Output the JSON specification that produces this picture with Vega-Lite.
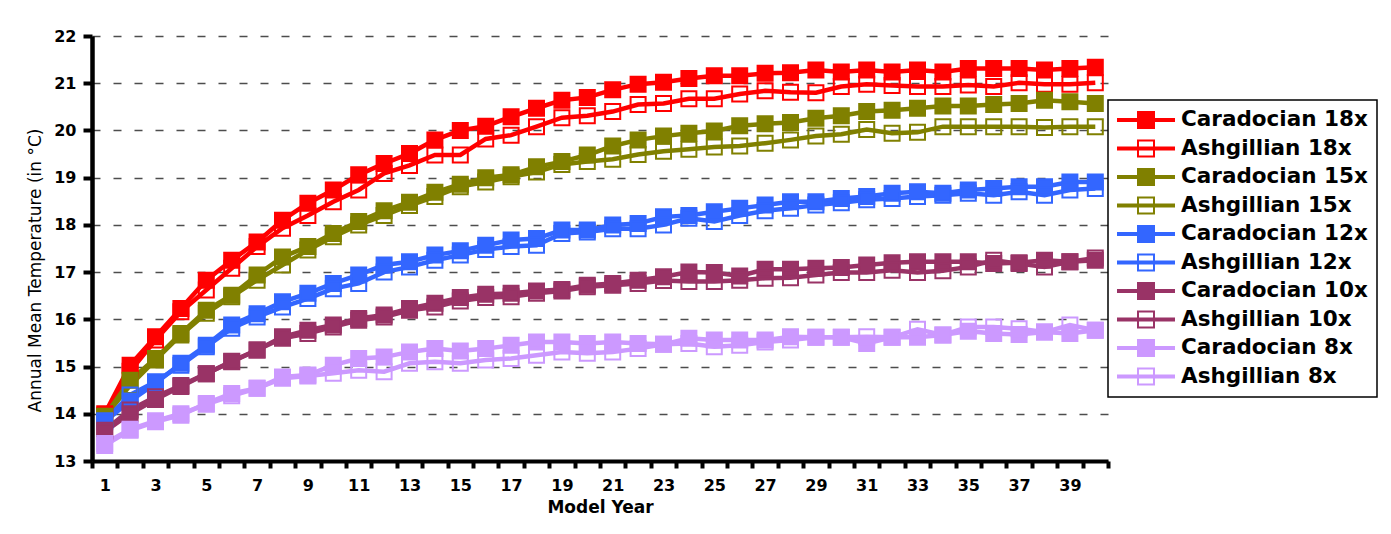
{
  "$schema": "https://vega.github.io/schema/vega-lite/v6.json",
  "width": 1016,
  "height": 425,
  "autosize": {"type": "none"},
  "padding": {"left": 92, "top": 36, "right": 283, "bottom": 73},
  "background": "white",
  "config": {"view": {"stroke": null}, "font": "DejaVu Sans"},
  "data": {
    "values": [
      {"year": 1, "Caradocian 18x": 14.0, "Ashgillian 18x": 13.97, "Caradocian 15x": 13.95, "Ashgillian 15x": 13.93, "Caradocian 12x": 13.83, "Ashgillian 12x": 13.85, "Caradocian 10x": 13.62, "Ashgillian 10x": 13.65, "Caradocian 8x": 13.33, "Ashgillian 8x": 13.37},
      {"year": 2, "Caradocian 18x": 15.03, "Ashgillian 18x": 14.9, "Caradocian 15x": 14.71, "Ashgillian 15x": 14.6, "Caradocian 12x": 14.27, "Ashgillian 12x": 14.4, "Caradocian 10x": 14.0, "Ashgillian 10x": 14.08, "Caradocian 8x": 13.65, "Ashgillian 8x": 13.67},
      {"year": 3, "Caradocian 18x": 15.63, "Ashgillian 18x": 15.56, "Caradocian 15x": 15.17, "Ashgillian 15x": 15.14, "Caradocian 12x": 14.64, "Ashgillian 12x": 14.68, "Caradocian 10x": 14.3, "Ashgillian 10x": 14.36, "Caradocian 8x": 13.83, "Ashgillian 8x": 13.85},
      {"year": 4, "Caradocian 18x": 16.23, "Ashgillian 18x": 16.16, "Caradocian 15x": 15.7, "Ashgillian 15x": 15.67, "Caradocian 12x": 15.07, "Ashgillian 12x": 15.03, "Caradocian 10x": 14.58, "Ashgillian 10x": 14.6, "Caradocian 8x": 13.97, "Ashgillian 8x": 14.0},
      {"year": 5, "Caradocian 18x": 16.83, "Ashgillian 18x": 16.62, "Caradocian 15x": 16.19, "Ashgillian 15x": 16.13, "Caradocian 12x": 15.45, "Ashgillian 12x": 15.42, "Caradocian 10x": 14.85, "Ashgillian 10x": 14.85, "Caradocian 8x": 14.22, "Ashgillian 8x": 14.2},
      {"year": 6, "Caradocian 18x": 17.25, "Ashgillian 18x": 17.08, "Caradocian 15x": 16.51, "Ashgillian 15x": 16.48, "Caradocian 12x": 15.88, "Ashgillian 12x": 15.81, "Caradocian 10x": 15.11, "Ashgillian 10x": 15.1, "Caradocian 8x": 14.43, "Ashgillian 8x": 14.38},
      {"year": 7, "Caradocian 18x": 17.64, "Ashgillian 18x": 17.54, "Caradocian 15x": 16.94, "Ashgillian 15x": 16.83, "Caradocian 12x": 16.12, "Ashgillian 12x": 16.05, "Caradocian 10x": 15.35, "Ashgillian 10x": 15.35, "Caradocian 8x": 14.54, "Ashgillian 8x": 14.54},
      {"year": 8, "Caradocian 18x": 18.1, "Ashgillian 18x": 17.93, "Caradocian 15x": 17.32, "Ashgillian 15x": 17.15, "Caradocian 12x": 16.37, "Ashgillian 12x": 16.26, "Caradocian 10x": 15.63, "Ashgillian 10x": 15.6, "Caradocian 8x": 14.78, "Ashgillian 8x": 14.75},
      {"year": 9, "Caradocian 18x": 18.46, "Ashgillian 18x": 18.2, "Caradocian 15x": 17.54, "Ashgillian 15x": 17.47, "Caradocian 12x": 16.55, "Ashgillian 12x": 16.44, "Caradocian 10x": 15.77, "Ashgillian 10x": 15.7, "Caradocian 8x": 14.82, "Ashgillian 8x": 14.8},
      {"year": 10, "Caradocian 18x": 18.74, "Ashgillian 18x": 18.49, "Caradocian 15x": 17.82, "Ashgillian 15x": 17.75, "Caradocian 12x": 16.76, "Ashgillian 12x": 16.65, "Caradocian 10x": 15.88, "Ashgillian 10x": 15.84, "Caradocian 8x": 15.03, "Ashgillian 8x": 14.86},
      {"year": 11, "Caradocian 18x": 19.06, "Ashgillian 18x": 18.74, "Caradocian 15x": 18.07, "Ashgillian 15x": 18.0, "Caradocian 12x": 16.94, "Ashgillian 12x": 16.76, "Caradocian 10x": 16.02, "Ashgillian 10x": 15.98, "Caradocian 8x": 15.17, "Ashgillian 8x": 14.92},
      {"year": 12, "Caradocian 18x": 19.3, "Ashgillian 18x": 19.09, "Caradocian 15x": 18.3, "Ashgillian 15x": 18.2, "Caradocian 12x": 17.15, "Ashgillian 12x": 17.0, "Caradocian 10x": 16.09, "Ashgillian 10x": 16.05, "Caradocian 8x": 15.2, "Ashgillian 8x": 14.89},
      {"year": 13, "Caradocian 18x": 19.51, "Ashgillian 18x": 19.26, "Caradocian 15x": 18.48, "Ashgillian 15x": 18.41, "Caradocian 12x": 17.22, "Ashgillian 12x": 17.11, "Caradocian 10x": 16.23, "Ashgillian 10x": 16.19, "Caradocian 8x": 15.31, "Ashgillian 8x": 15.07},
      {"year": 14, "Caradocian 18x": 19.8, "Ashgillian 18x": 19.48, "Caradocian 15x": 18.69, "Ashgillian 15x": 18.6, "Caradocian 12x": 17.36, "Ashgillian 12x": 17.25, "Caradocian 10x": 16.34, "Ashgillian 10x": 16.26, "Caradocian 8x": 15.38, "Ashgillian 8x": 15.1},
      {"year": 15, "Caradocian 18x": 20.0, "Ashgillian 18x": 19.48, "Caradocian 15x": 18.86, "Ashgillian 15x": 18.81, "Caradocian 12x": 17.45, "Ashgillian 12x": 17.36, "Caradocian 10x": 16.46, "Ashgillian 10x": 16.39, "Caradocian 8x": 15.33, "Ashgillian 8x": 15.07},
      {"year": 16, "Caradocian 18x": 20.09, "Ashgillian 18x": 19.82, "Caradocian 15x": 19.0, "Ashgillian 15x": 18.91, "Caradocian 12x": 17.57, "Ashgillian 12x": 17.48, "Caradocian 10x": 16.53, "Ashgillian 10x": 16.46, "Caradocian 8x": 15.38, "Ashgillian 8x": 15.14},
      {"year": 17, "Caradocian 18x": 20.29, "Ashgillian 18x": 19.9, "Caradocian 15x": 19.06, "Ashgillian 15x": 19.02, "Caradocian 12x": 17.68, "Ashgillian 12x": 17.54, "Caradocian 10x": 16.55, "Ashgillian 10x": 16.48, "Caradocian 8x": 15.45, "Ashgillian 8x": 15.17},
      {"year": 18, "Caradocian 18x": 20.47, "Ashgillian 18x": 20.08, "Caradocian 15x": 19.23, "Ashgillian 15x": 19.12, "Caradocian 12x": 17.71, "Ashgillian 12x": 17.57, "Caradocian 10x": 16.6, "Ashgillian 10x": 16.55, "Caradocian 8x": 15.52, "Ashgillian 8x": 15.24},
      {"year": 19, "Caradocian 18x": 20.64, "Ashgillian 18x": 20.27, "Caradocian 15x": 19.34, "Ashgillian 15x": 19.28, "Caradocian 12x": 17.89, "Ashgillian 12x": 17.82, "Caradocian 10x": 16.63, "Ashgillian 10x": 16.6, "Caradocian 8x": 15.52, "Ashgillian 8x": 15.31},
      {"year": 20, "Caradocian 18x": 20.7, "Ashgillian 18x": 20.31, "Caradocian 15x": 19.48, "Ashgillian 15x": 19.34, "Caradocian 12x": 17.89, "Ashgillian 12x": 17.85, "Caradocian 10x": 16.72, "Ashgillian 10x": 16.69, "Caradocian 8x": 15.49, "Ashgillian 8x": 15.28},
      {"year": 21, "Caradocian 18x": 20.86, "Ashgillian 18x": 20.4, "Caradocian 15x": 19.67, "Ashgillian 15x": 19.39, "Caradocian 12x": 18.0, "Ashgillian 12x": 17.92, "Caradocian 10x": 16.76, "Ashgillian 10x": 16.72, "Caradocian 8x": 15.52, "Ashgillian 8x": 15.31},
      {"year": 22, "Caradocian 18x": 20.98, "Ashgillian 18x": 20.55, "Caradocian 15x": 19.8, "Ashgillian 15x": 19.49, "Caradocian 12x": 18.03, "Ashgillian 12x": 17.92, "Caradocian 10x": 16.83, "Ashgillian 10x": 16.76, "Caradocian 8x": 15.49, "Ashgillian 8x": 15.38},
      {"year": 23, "Caradocian 18x": 21.02, "Ashgillian 18x": 20.57, "Caradocian 15x": 19.88, "Ashgillian 15x": 19.56, "Caradocian 12x": 18.17, "Ashgillian 12x": 18.0, "Caradocian 10x": 16.9, "Ashgillian 10x": 16.82, "Caradocian 8x": 15.47, "Ashgillian 8x": 15.47},
      {"year": 24, "Caradocian 18x": 21.1, "Ashgillian 18x": 20.67, "Caradocian 15x": 19.94, "Ashgillian 15x": 19.6, "Caradocian 12x": 18.2, "Ashgillian 12x": 18.14, "Caradocian 10x": 17.0, "Ashgillian 10x": 16.8, "Caradocian 8x": 15.6, "Ashgillian 8x": 15.49},
      {"year": 25, "Caradocian 18x": 21.16, "Ashgillian 18x": 20.67, "Caradocian 15x": 19.99, "Ashgillian 15x": 19.65, "Caradocian 12x": 18.28, "Ashgillian 12x": 18.07, "Caradocian 10x": 16.99, "Ashgillian 10x": 16.8, "Caradocian 8x": 15.56, "Ashgillian 8x": 15.42},
      {"year": 26, "Caradocian 18x": 21.16, "Ashgillian 18x": 20.77, "Caradocian 15x": 20.1, "Ashgillian 15x": 19.67, "Caradocian 12x": 18.35, "Ashgillian 12x": 18.2, "Caradocian 10x": 16.92, "Ashgillian 10x": 16.83, "Caradocian 8x": 15.56, "Ashgillian 8x": 15.45},
      {"year": 27, "Caradocian 18x": 21.21, "Ashgillian 18x": 20.84, "Caradocian 15x": 20.14, "Ashgillian 15x": 19.73, "Caradocian 12x": 18.42, "Ashgillian 12x": 18.3, "Caradocian 10x": 17.06, "Ashgillian 10x": 16.87, "Caradocian 8x": 15.56, "Ashgillian 8x": 15.52},
      {"year": 28, "Caradocian 18x": 21.22, "Ashgillian 18x": 20.81, "Caradocian 15x": 20.17, "Ashgillian 15x": 19.8, "Caradocian 12x": 18.49, "Ashgillian 12x": 18.35, "Caradocian 10x": 17.06, "Ashgillian 10x": 16.88, "Caradocian 8x": 15.63, "Ashgillian 8x": 15.56},
      {"year": 29, "Caradocian 18x": 21.28, "Ashgillian 18x": 20.8, "Caradocian 15x": 20.26, "Ashgillian 15x": 19.88, "Caradocian 12x": 18.49, "Ashgillian 12x": 18.42, "Caradocian 10x": 17.08, "Ashgillian 10x": 16.94, "Caradocian 8x": 15.62, "Ashgillian 8x": 15.62},
      {"year": 30, "Caradocian 18x": 21.24, "Ashgillian 18x": 20.93, "Caradocian 15x": 20.31, "Ashgillian 15x": 19.92, "Caradocian 12x": 18.56, "Ashgillian 12x": 18.47, "Caradocian 10x": 17.1, "Ashgillian 10x": 16.99, "Caradocian 8x": 15.62, "Ashgillian 8x": 15.62},
      {"year": 31, "Caradocian 18x": 21.28, "Ashgillian 18x": 20.98, "Caradocian 15x": 20.4, "Ashgillian 15x": 20.02, "Caradocian 12x": 18.6, "Ashgillian 12x": 18.53, "Caradocian 10x": 17.15, "Ashgillian 10x": 16.99, "Caradocian 8x": 15.49, "Ashgillian 8x": 15.63},
      {"year": 32, "Caradocian 18x": 21.24, "Ashgillian 18x": 20.95, "Caradocian 15x": 20.43, "Ashgillian 15x": 19.94, "Caradocian 12x": 18.67, "Ashgillian 12x": 18.56, "Caradocian 10x": 17.2, "Ashgillian 10x": 17.04, "Caradocian 8x": 15.62, "Ashgillian 8x": 15.62},
      {"year": 33, "Caradocian 18x": 21.28, "Ashgillian 18x": 20.93, "Caradocian 15x": 20.47, "Ashgillian 15x": 19.96, "Caradocian 12x": 18.7, "Ashgillian 12x": 18.6, "Caradocian 10x": 17.22, "Ashgillian 10x": 16.99, "Caradocian 8x": 15.62, "Ashgillian 8x": 15.79},
      {"year": 34, "Caradocian 18x": 21.24, "Ashgillian 18x": 20.93, "Caradocian 15x": 20.52, "Ashgillian 15x": 20.08, "Caradocian 12x": 18.67, "Ashgillian 12x": 18.63, "Caradocian 10x": 17.22, "Ashgillian 10x": 17.03, "Caradocian 8x": 15.67, "Ashgillian 8x": 15.67},
      {"year": 35, "Caradocian 18x": 21.31, "Ashgillian 18x": 20.96, "Caradocian 15x": 20.52, "Ashgillian 15x": 20.08, "Caradocian 12x": 18.74, "Ashgillian 12x": 18.67, "Caradocian 10x": 17.22, "Ashgillian 10x": 17.11, "Caradocian 8x": 15.75, "Ashgillian 8x": 15.84},
      {"year": 36, "Caradocian 18x": 21.31, "Ashgillian 18x": 20.93, "Caradocian 15x": 20.55, "Ashgillian 15x": 20.08, "Caradocian 12x": 18.77, "Ashgillian 12x": 18.63, "Caradocian 10x": 17.18, "Ashgillian 10x": 17.25, "Caradocian 8x": 15.7, "Ashgillian 8x": 15.84},
      {"year": 37, "Caradocian 18x": 21.31, "Ashgillian 18x": 21.01, "Caradocian 15x": 20.57, "Ashgillian 15x": 20.08, "Caradocian 12x": 18.81, "Ashgillian 12x": 18.7, "Caradocian 10x": 17.2, "Ashgillian 10x": 17.18, "Caradocian 8x": 15.68, "Ashgillian 8x": 15.8},
      {"year": 38, "Caradocian 18x": 21.28, "Ashgillian 18x": 20.98, "Caradocian 15x": 20.64, "Ashgillian 15x": 20.06, "Caradocian 12x": 18.81, "Ashgillian 12x": 18.63, "Caradocian 10x": 17.25, "Ashgillian 10x": 17.11, "Caradocian 8x": 15.73, "Ashgillian 8x": 15.73},
      {"year": 39, "Caradocian 18x": 21.31, "Ashgillian 18x": 20.98, "Caradocian 15x": 20.61, "Ashgillian 15x": 20.08, "Caradocian 12x": 18.91, "Ashgillian 12x": 18.74, "Caradocian 10x": 17.22, "Ashgillian 10x": 17.22, "Caradocian 8x": 15.7, "Ashgillian 8x": 15.88},
      {"year": 40, "Caradocian 18x": 21.34, "Ashgillian 18x": 21.01, "Caradocian 15x": 20.57, "Ashgillian 15x": 20.08, "Caradocian 12x": 18.91, "Ashgillian 12x": 18.77, "Caradocian 10x": 17.25, "Ashgillian 10x": 17.3, "Caradocian 8x": 15.77, "Ashgillian 8x": 15.77}
    ]
  },
  "transform": [
    {
      "fold": ["Caradocian 18x", "Ashgillian 18x", "Caradocian 15x", "Ashgillian 15x", "Caradocian 12x", "Ashgillian 12x", "Caradocian 10x", "Ashgillian 10x", "Caradocian 8x", "Ashgillian 8x"],
      "as": ["series", "temp"]
    }
  ],
  "encoding": {
    "x": {
      "field": "year",
      "type": "ordinal",
      "bandPosition": 0.5,
      "scale": {"type": "band", "paddingInner": 0, "paddingOuter": 0},
      "axis": {
        "title": "Model Year",
        "titleFont": "DejaVu Sans",
        "titleFontWeight": "bold",
        "titleFontSize": 17,
        "titleColor": "black",
        "titlePadding": 6,
        "labelFont": "DejaVu Sans",
        "labelFontWeight": "bold",
        "labelFontSize": 16,
        "labelColor": "black",
        "labelAngle": 0,
        "labelPadding": 9,
        "labelOverlap": false,
        "labelExpr": "datum.value % 2 == 1 ? datum.label : ''",
        "tickBand": "extent",
        "tickColor": "black",
        "tickWidth": 4,
        "tickSize": 7,
        "domainColor": "black",
        "domainWidth": 4,
        "grid": false
      }
    },
    "y": {
      "field": "temp",
      "type": "quantitative",
      "scale": {"domain": [13, 22], "nice": false, "zero": false},
      "axis": {
        "title": "Annual Mean Temperature (in °C)",
        "titleFont": "DejaVu Sans",
        "titleFontWeight": "normal",
        "titleFontSize": 17,
        "titleColor": "black",
        "titlePadding": 9,
        "titleY": 234,
        "values": [13, 14, 15, 16, 17, 18, 19, 20, 21, 22],
        "labelFont": "DejaVu Sans",
        "labelFontWeight": "bold",
        "labelFontSize": 16,
        "labelColor": "black",
        "labelPadding": 7,
        "tickColor": "black",
        "tickWidth": 4,
        "tickSize": 9,
        "domainColor": "black",
        "domainWidth": 4.5,
        "grid": true,
        "gridColor": "#4d4d4d",
        "gridWidth": 1.5,
        "gridDash": [8, 13]
      }
    }
  },
  "layer": [
    {
      "mark": {"type": "line"},
      "encoding": {
        "strokeWidth": {"value": 4.5},
        "stroke": {
          "field": "series",
          "type": "nominal",
          "scale": {
            "domain": ["Caradocian 18x", "Ashgillian 18x", "Caradocian 15x", "Ashgillian 15x", "Caradocian 12x", "Ashgillian 12x", "Caradocian 10x", "Ashgillian 10x", "Caradocian 8x", "Ashgillian 8x"],
            "range": ["#ff0000", "#ff0000", "#808000", "#808000", "#3366ff", "#3366ff", "#993366", "#993366", "#cc99ff", "#cc99ff"]
          },
          "legend": {
            "title": null,
            "orient": "none",
            "legendX": 1016,
            "legendY": 64,
            "symbolType": "M-1,-0.036H1V0.036H-1Z M-0.286,-0.286H0.286V0.286H-0.286Z",
            "symbolSize": 3136,
            "symbolStrokeWidth": 2,
            "symbolOpacity": 1,
            "labelFont": "DejaVu Sans",
            "labelFontWeight": "bold",
            "labelFontSize": 21.5,
            "labelColor": "black",
            "labelOffset": 6,
            "labelLimit": 400,
            "padding": 9,
            "rowPadding": 6.5,
            "clipHeight": 22,
            "strokeColor": "black",
            "fillColor": "white",
            "encode": {"legend": {"update": {"strokeWidth": {"value": 1.5}}}, "symbols": {"update": {"strokeWidth": {"value": 2}}}}
          }
        }
      }
    },
    {
      "mark": {"type": "point", "shape": "square", "size": 225, "opacity": 1},
      "encoding": {
        "strokeWidth": {"value": 2},
        "stroke": {
          "field": "series",
          "type": "nominal",
          "legend": null
        },
        "fill": {
          "field": "series",
          "type": "nominal",
          "scale": {
            "domain": ["Caradocian 18x", "Ashgillian 18x", "Caradocian 15x", "Ashgillian 15x", "Caradocian 12x", "Ashgillian 12x", "Caradocian 10x", "Ashgillian 10x", "Caradocian 8x", "Ashgillian 8x"],
            "range": ["#ff0000", "transparent", "#808000", "transparent", "#3366ff", "transparent", "#993366", "transparent", "#cc99ff", "transparent"]
          },
          "legend": {
            "title": null,
            "orient": "none",
            "legendX": 1016,
            "legendY": 64,
            "symbolType": "M-1,-0.036H1V0.036H-1Z M-0.286,-0.286H0.286V0.286H-0.286Z",
            "symbolSize": 3136,
            "symbolStrokeWidth": 2,
            "symbolOpacity": 1,
            "labelFont": "DejaVu Sans",
            "labelFontWeight": "bold",
            "labelFontSize": 21.5,
            "labelColor": "black",
            "labelOffset": 6,
            "labelLimit": 400,
            "padding": 9,
            "rowPadding": 6.5,
            "clipHeight": 22,
            "strokeColor": "black",
            "fillColor": "white",
            "encode": {"legend": {"update": {"strokeWidth": {"value": 1.5}}}, "symbols": {"update": {"strokeWidth": {"value": 2}}}}
          }
        }
      }
    }
  ]
}
